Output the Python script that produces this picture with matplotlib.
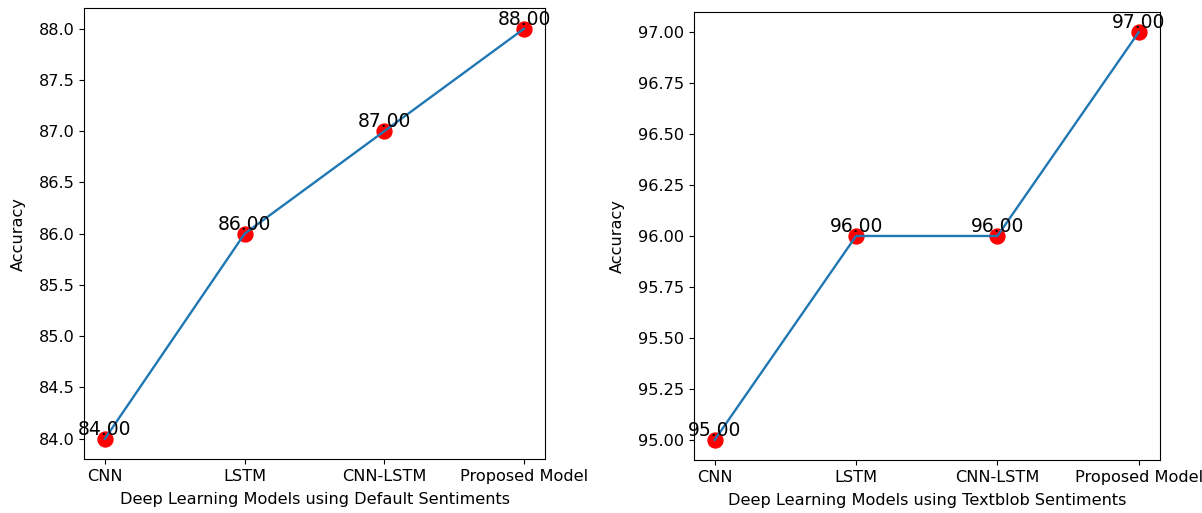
import matplotlib
matplotlib.use("Agg")
import matplotlib.pyplot as plt

models = ["CNN", "LSTM", "CNN-LSTM", "Proposed Model"]
acc_default = [84.0, 86.0, 87.0, 88.0]
acc_textblob = [95.0, 96.0, 96.0, 97.0]

plt.rcParams["font.size"] = 11.6

fig = plt.figure(figsize=(12.02, 5.13), dpi=100)
ax1 = fig.add_axes([0.0699, 0.105, 0.3835, 0.879])
ax2 = fig.add_axes([0.577, 0.103, 0.388, 0.874])

for ax, acc, xlabel in [(ax1, acc_default, "Deep Learning Models using Default Sentiments"),
                        (ax2, acc_textblob, "Deep Learning Models using Textblob Sentiments")]:
    ax.scatter(models, acc, color="red", s=115, zorder=2)
    ax.plot(models, acc, color="#1f77b4", linewidth=1.7, zorder=3)
    for x, y in zip(models, acc):
        ax.text(x, y, f"{y:.2f}", ha="center", va="bottom", fontsize=13.5, zorder=4)
    ax.set_xlabel(xlabel, labelpad=6)
    ax.set_ylabel("Accuracy", labelpad=9)
    ax.tick_params(labelsize=11.6)

fig.savefig("out.png", dpi=100)
